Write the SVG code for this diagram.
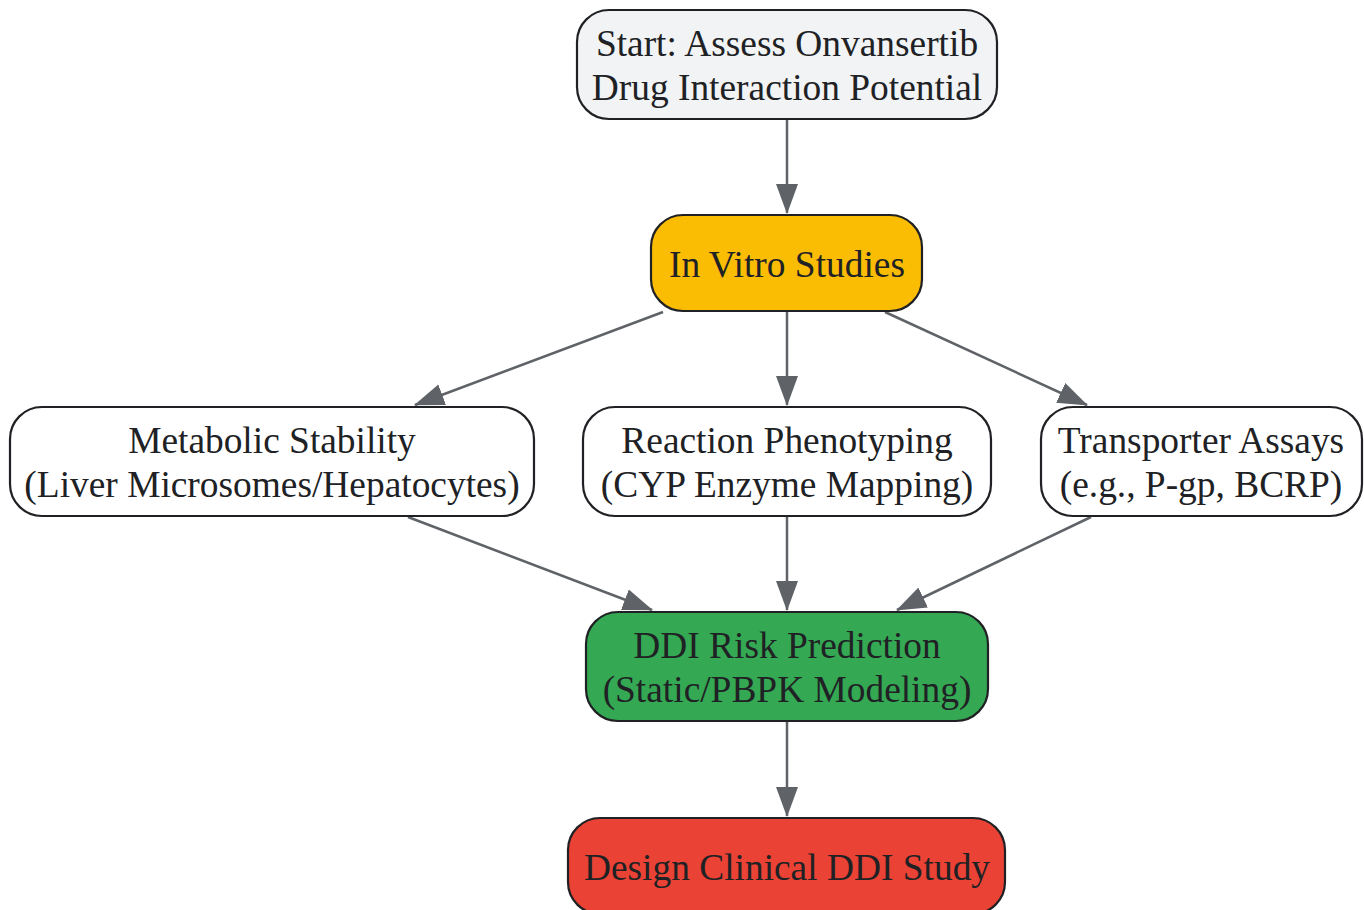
<svg xmlns="http://www.w3.org/2000/svg" width="1364" height="910" viewBox="0 0 1364 910">
<defs>
<style>
.n{stroke:#202124;stroke-width:2.2}
.t{font-family:"Liberation Serif","Times New Roman",serif;font-size:37.4px;fill:#202124;text-anchor:middle}
.e{stroke:#5f6368;stroke-width:2.5;fill:none}
</style>
<marker id="ah" markerUnits="userSpaceOnUse" markerWidth="30" markerHeight="24" viewBox="0 0 30 24" refX="29" refY="12" orient="auto">
<path d="M0,1 L30,12 L0,23 Z" fill="#5f6368"/>
</marker>
</defs>
<rect width="1364" height="910" fill="#ffffff"/>
<g id="connectors">
<line class="e" x1="787" y1="119" x2="787" y2="213" marker-end="url(#ah)"/>
<line class="e" x1="663" y1="312" x2="415" y2="405" marker-end="url(#ah)"/>
<line class="e" x1="787" y1="311" x2="787" y2="405" marker-end="url(#ah)"/>
<line class="e" x1="885" y1="312" x2="1087" y2="405" marker-end="url(#ah)"/>
<line class="e" x1="408" y1="517" x2="652" y2="610" marker-end="url(#ah)"/>
<line class="e" x1="787" y1="517" x2="787" y2="610" marker-end="url(#ah)"/>
<line class="e" x1="1091" y1="517" x2="897" y2="610" marker-end="url(#ah)"/>
<line class="e" x1="787" y1="721" x2="787" y2="816" marker-end="url(#ah)"/>
</g>
<g id="start">
<rect class="n" x="577" y="10" width="420" height="109" rx="32" fill="#f1f3f4"/>
<text class="t" x="787" y="56">Start: Assess Onvansertib</text>
<text class="t" x="787" y="100">Drug Interaction Potential</text>
</g>
<g id="invitro">
<rect class="n" x="651" y="215" width="271" height="96" rx="32" fill="#fbbc04"/>
<text class="t" x="787" y="277">In Vitro Studies</text>
</g>
<g id="metabolic">
<rect class="n" x="10" y="407" width="524" height="109" rx="32" fill="#ffffff"/>
<text class="t" x="272" y="453">Metabolic Stability</text>
<text class="t" x="272" y="497">(Liver Microsomes/Hepatocytes)</text>
</g>
<g id="reaction">
<rect class="n" x="583" y="407" width="408" height="109" rx="32" fill="#ffffff"/>
<text class="t" x="787" y="453">Reaction Phenotyping</text>
<text class="t" x="787" y="497">(CYP Enzyme Mapping)</text>
</g>
<g id="transporter">
<rect class="n" x="1041" y="407" width="321" height="109" rx="32" fill="#ffffff"/>
<text class="t" x="1201" y="453">Transporter Assays</text>
<text class="t" x="1201" y="497">(e.g., P-gp, BCRP)</text>
</g>
<g id="ddi">
<rect class="n" x="586" y="612" width="402" height="109" rx="32" fill="#34a853"/>
<text class="t" x="787" y="658">DDI Risk Prediction</text>
<text class="t" x="787" y="702">(Static/PBPK Modeling)</text>
</g>
<g id="design">
<rect class="n" x="568" y="818" width="437" height="96" rx="32" fill="#ea4335"/>
<text class="t" x="787" y="880">Design Clinical DDI Study</text>
</g>
</svg>
